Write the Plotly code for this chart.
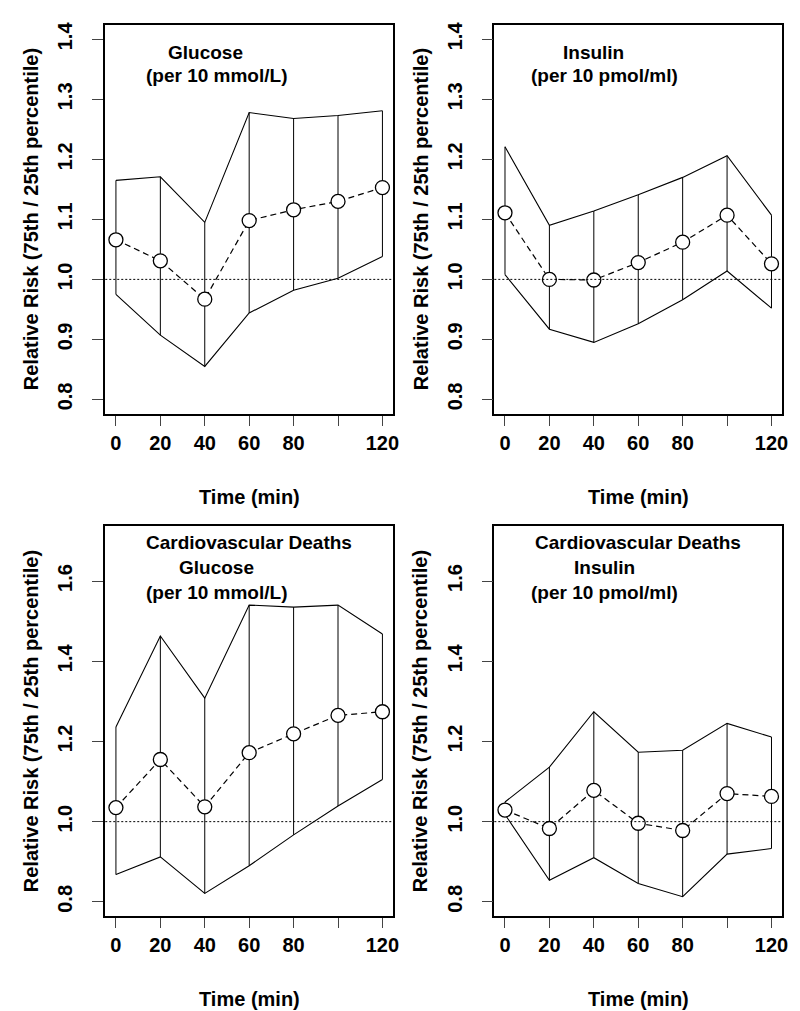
import plotly.graph_objects as go

# ---- data ----
time_min = [0, 20, 40, 60, 80, 100, 120]
x_tick_vals = [0, 20, 40, 60, 80, 100, 120]
x_tick_text = ["0", "20", "40", "60", "80", "", "120"]

glu_rr = [1.066, 1.031, 0.967, 1.098, 1.116, 1.130, 1.153]
glu_hi = [1.165, 1.171, 1.095, 1.278, 1.268, 1.273, 1.281]
glu_lo = [0.975, 0.907, 0.855, 0.944, 0.982, 1.002, 1.038]

ins_rr = [1.111, 1.000, 0.999, 1.028, 1.062, 1.107, 1.026]
ins_hi = [1.221, 1.090, 1.114, 1.141, 1.170, 1.206, 1.107]
ins_lo = [1.008, 0.917, 0.895, 0.926, 0.966, 1.014, 0.952]

cvglu_rr = [1.035, 1.155, 1.037, 1.172, 1.219, 1.265, 1.274]
cvglu_hi = [1.236, 1.463, 1.308, 1.540, 1.535, 1.540, 1.468]
cvglu_lo = [0.868, 0.912, 0.821, 0.890, 0.967, 1.039, 1.105]

cvins_rr = [1.029, 0.983, 1.078, 0.996, 0.978, 1.070, 1.063]
cvins_hi = [1.049, 1.136, 1.274, 1.173, 1.178, 1.245, 1.211]
cvins_lo = [1.018, 0.854, 0.910, 0.846, 0.813, 0.919, 0.933]

top_yticks = [0.8, 0.9, 1.0, 1.1, 1.2, 1.3, 1.4]
top_yticktext = ["0.8", "0.9", "1.0", "1.1", "1.2", "1.3", "1.4"]
bot_yticks = [0.8, 1.0, 1.2, 1.4, 1.6]
bot_yticktext = ["0.8", "1.0", "1.2", "1.4", "1.6"]

panels = [
    dict(rr=glu_rr, hi=glu_hi, lo=glu_lo, title=["Glucose", "(per 10 mmol/L)"]),
    dict(rr=ins_rr, hi=ins_hi, lo=ins_lo, title=["Insulin", "(per 10 pmol/ml)"]),
    dict(rr=cvglu_rr, hi=cvglu_hi, lo=cvglu_lo,
         title=["Cardiovascular Deaths", "Glucose", "(per 10 mmol/L)"]),
    dict(rr=cvins_rr, hi=cvins_hi, lo=cvins_lo,
         title=["Cardiovascular Deaths", "Insulin", "(per 10 pmol/ml)"]),
]

W, H = 800, 1011
FONT = "Liberation Sans, Arial, sans-serif"
FS = 20
FS_TITLE = 19

# pixel boxes (left, right, top, bottom)
boxes = [(98, 388, 14, 404), (490, 780, 14, 404),
         (98, 388, 517, 908), (490, 780, 517, 908)]

# title pixel positions (center x, center y) for each line
title_pos = [
    [(199, 42), (210, 65)],
    [(590, 42), (601, 65)],
    [(243, 533), (210, 558), (210, 583)],
    [(635, 533), (601, 558), (601, 583)],
]

fig = go.Figure()
annotations = []
shapes = []

for i, p in enumerate(panels):
    n = i + 1
    xa = "x" if n == 1 else f"x{n}"
    ya = "y" if n == 1 else f"y{n}"
    # vertical interval lines
    vx, vy = [], []
    for t, lo, hi in zip(time_min, p["lo"], p["hi"]):
        vx += [t, t, None]
        vy += [lo, hi, None]
    fig.add_trace(go.Scatter(x=vx, y=vy, mode="lines", xaxis=xa, yaxis=ya,
                             line=dict(color="black", width=1), showlegend=False,
                             hoverinfo="skip"))
    fig.add_trace(go.Scatter(x=time_min, y=p["hi"], mode="lines", xaxis=xa, yaxis=ya,
                             line=dict(color="black", width=1.1), showlegend=False))
    fig.add_trace(go.Scatter(x=time_min, y=p["lo"], mode="lines", xaxis=xa, yaxis=ya,
                             line=dict(color="black", width=1.1), showlegend=False))
    fig.add_trace(go.Scatter(x=time_min, y=p["rr"], mode="lines+markers", xaxis=xa, yaxis=ya,
                             line=dict(color="black", width=1.2, dash="6px,4px"),
                             marker=dict(symbol="circle", size=14, color="white",
                                         line=dict(color="black", width=1.3)),
                             showlegend=False))
    # dotted reference at 1.0
    shapes.append(dict(type="line", xref=f"{xa} domain", yref=ya, x0=0, x1=1, y0=1.0, y1=1.0,
                       line=dict(color="black", width=1, dash="2px,2px")))

    l, r, t, b = boxes[i]
    top = i < 2
    xkey = "xaxis" if n == 1 else f"xaxis{n}"
    ykey = "yaxis" if n == 1 else f"yaxis{n}"
    fig.update_layout(**{
        xkey: dict(domain=[l / W, r / W], anchor=ya, range=[-4.8, 124.8],
                   tickvals=x_tick_vals, ticktext=x_tick_text,
                   ticks="outside", ticklen=10, tickwidth=1, tickcolor="#444",
                   showline=True, linecolor="black", linewidth=1.6, mirror=True,
                   showgrid=False, zeroline=False, ticklabelstandoff=0,
                   tickfont=dict(family=FONT, size=FS, color="black", weight="bold")),
        ykey: dict(domain=[1 - b / H, 1 - t / H], anchor=xa,
                   range=[0.776, 1.424] if top else [0.764, 1.736],
                   tickvals=top_yticks if top else bot_yticks,
                   ticktext=top_yticktext if top else bot_yticktext,
                   ticks="outside", ticklen=11, tickwidth=1, tickcolor="#444",
                   tickangle=-90,
                   showline=True, linecolor="black", linewidth=1.6, mirror=True,
                   showgrid=False, zeroline=False, ticklabelstandoff=12,
                   tickfont=dict(family=FONT, size=FS, color="black", weight="bold")),
    })
    # axis titles
    annotations.append(dict(text="Time (min)", xref="paper", yref="paper",
                            x=((l + r) / 2) / W, y=1 - (b + 83) / H,
                            showarrow=False, xanchor="center", yanchor="middle",
                            font=dict(family=FONT, size=FS, color="black", weight="bold")))
    annotations.append(dict(text="Relative Risk (75th / 25th percentile)", xref="paper", yref="paper",
                            x=(l - 74) / W, y=1 - ((t + b) / 2) / H, textangle=-90,
                            showarrow=False, xanchor="center", yanchor="middle",
                            font=dict(family=FONT, size=FS, color="black", weight="bold")))
    for txt, (cx, cy) in zip(p["title"], title_pos[i]):
        annotations.append(dict(text=txt, xref="paper", yref="paper",
                                x=cx / W, y=1 - cy / H, showarrow=False,
                                xanchor="center", yanchor="middle",
                                font=dict(family=FONT, size=FS_TITLE, color="black", weight="bold")))

fig.update_layout(width=W, height=H, margin=dict(l=0, r=0, t=0, b=0),
                  paper_bgcolor="white", plot_bgcolor="white",
                  annotations=annotations, shapes=shapes, showlegend=False)

fig.write_html("out.html")
